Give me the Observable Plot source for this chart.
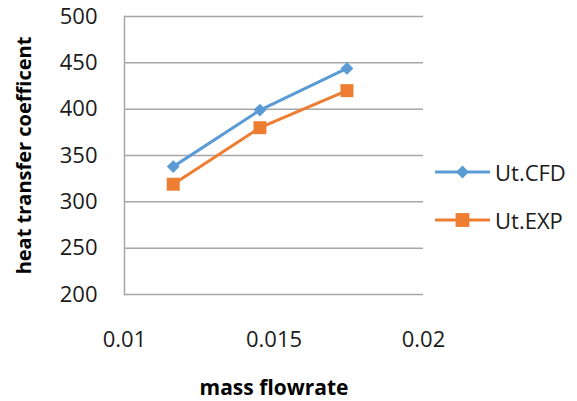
<!DOCTYPE html>
<html><head><meta charset="utf-8">
<script src="https://cdn.jsdelivr.net/npm/d3@7"></script>
<script src="https://cdn.jsdelivr.net/npm/@observablehq/plot@0.6"></script>
<style>
body{margin:0;background:#fff;}
#wrap{position:relative;width:577px;height:401px;font-family:"Open Sans",sans-serif;}
#legend{position:absolute;left:433px;top:160px;}
.row{display:flex;align-items:center;height:24px;margin-bottom:24px;}
.row span{font-size:22px;color:#1a1a1a;margin-left:4px;line-height:24px;}
</style></head>
<body><div id="wrap"></div>
<script>
const massFlowrate = [0.01163, 0.01453, 0.01744];
const utCFD = [338, 399, 444];
const utEXP = [319, 380, 420];
const seriesNames = ["Ut.CFD", "Ut.EXP"];
const seriesColors = ["#5B9BD5", "#ED7D31"];
const seriesSymbols = ["diamond2", "square"];
const xTicks = [0.01, 0.015, 0.02];
const yTicks = [200, 250, 300, 350, 400, 450, 500];
const xTitle = "mass flowrate";
const yTitle = "heat transfer coefficent";

const seriesValues = [utCFD, utEXP];
const rows = seriesNames.flatMap((s, i) => massFlowrate.map((x, j) => ({series: s, x, y: seriesValues[i][j]})));

const chart = Plot.plot({
  width: 577, height: 401,
  marginLeft: 124, marginRight: 154, marginTop: 16, marginBottom: 107,
  style: {fontFamily: '"Open Sans", sans-serif', fontSize: "22px", color: "#1a1a1a", background: "#fff"},
  x: {domain: [0.01, 0.02]},
  y: {domain: [200, 500]},
  color: {domain: seriesNames, range: seriesColors},
  symbol: {domain: seriesNames, range: seriesSymbols},
  marks: [
    Plot.gridY(yTicks, {stroke: "#a6a6a6", strokeOpacity: 1, strokeWidth: 1.5}),
    Plot.frame({anchor: "left", stroke: "#a6a6a6", strokeWidth: 1.5}),
    Plot.axisY({ticks: yTicks, tickSize: 0, tickPadding: 27, tickFormat: d => String(d), label: null}),
    Plot.axisX({ticks: xTicks, tickSize: 0, tickPadding: 37, tickFormat: d => String(d), label: null}),
    Plot.line(rows, {x: "x", y: "y", z: "series", stroke: "series", strokeWidth: 3}),
    Plot.dot(rows.filter(d => d.series === seriesNames[0]), {x: "x", y: "y", fill: "series", symbol: "series", r: 5.8}),
    Plot.dot(rows.filter(d => d.series === seriesNames[1]), {x: "x", y: "y", fill: "series", symbol: "series", r: 7.3}),
    Plot.text([yTitle], {frameAnchor: "left", textAnchor: "middle", lineAnchor: "middle", rotate: -90, dx: -100, fontWeight: "bold", fontSize: 20, fill: "#000"}),
    Plot.text([xTitle], {frameAnchor: "bottom", textAnchor: "middle", lineAnchor: "middle", dy: 94, fontWeight: "bold", fontSize: 21, fill: "#000"})
  ]
});
const wrap = document.getElementById("wrap");
wrap.appendChild(chart);

const legend = d3.select(wrap).append("div").attr("id", "legend");
const symGen = [d3.symbol(d3.symbolDiamond2, 5.8 * 5.8 * Math.PI), d3.symbol(d3.symbolSquare, 7.8 * 7.8 * Math.PI)];
seriesNames.forEach((name, i) => {
  const row = legend.append("div").attr("class", "row");
  const svg = row.append("svg").attr("width", 58).attr("height", 24);
  svg.append("line").attr("x1", 2).attr("x2", 57).attr("y1", 12).attr("y2", 12)
    .attr("stroke", seriesColors[i]).attr("stroke-width", 3);
  svg.append("path").attr("d", symGen[i]()).attr("transform", "translate(29.5,12)").attr("fill", seriesColors[i]);
  row.append("span").text(name);
});
</script>
</body></html>
